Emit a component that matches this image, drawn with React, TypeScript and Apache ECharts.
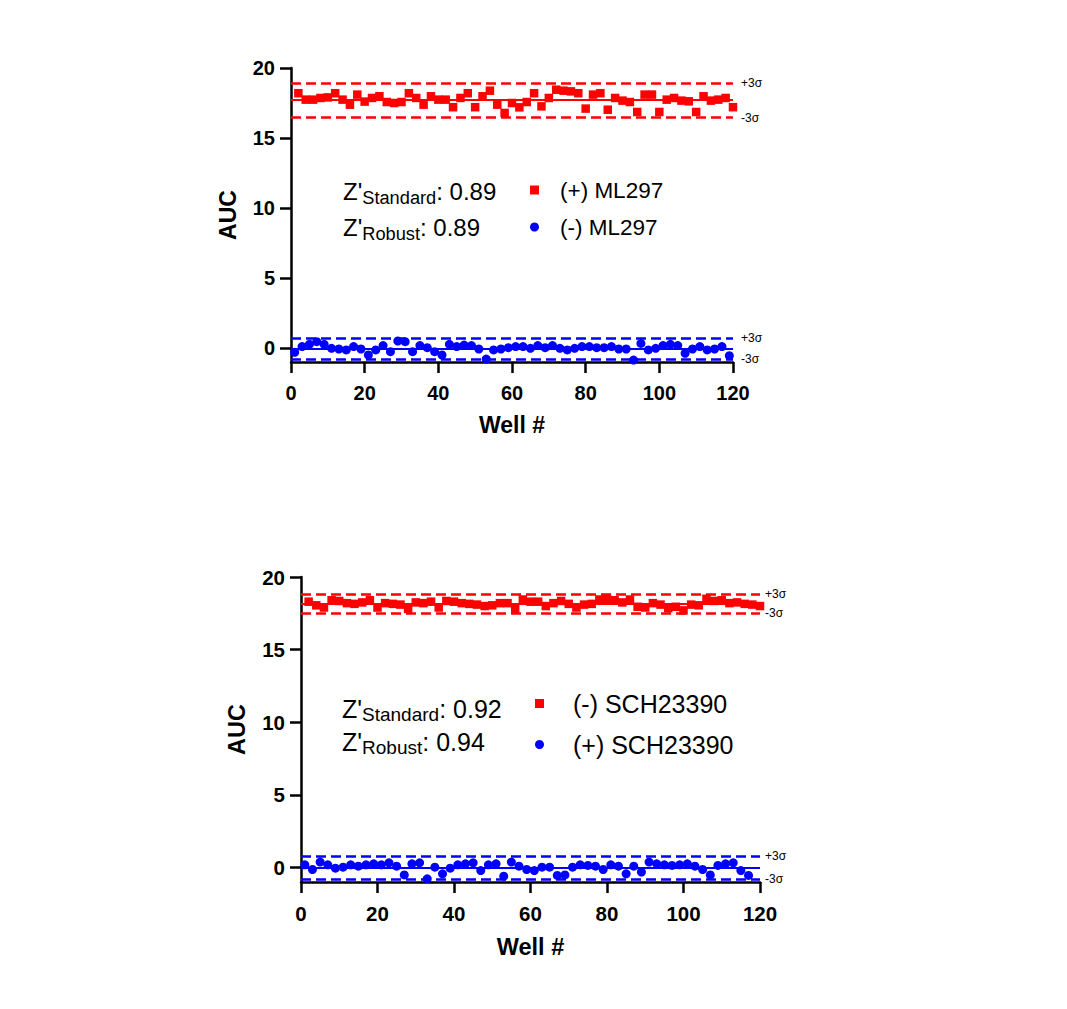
import React, { useEffect, useRef } from "react";
import * as echarts from "echarts";

const FONT = "'Liberation Sans', Arial, Helvetica, sans-serif";

// well numbers: red controls on even wells, blue controls on odd wells
const evenWells = Array.from({ length: 60 }, (_, i) => 2 + i * 2);
const oddWells = Array.from({ length: 60 }, (_, i) => 1 + i * 2);

// top plate: ML297
const topRedAuc = [
  18.2, 17.74, 17.74, 17.86, 17.9, 18.2, 17.74, 17.38, 18.1, 17.6,
  17.86, 17.98, 17.57, 17.5, 17.57, 18.2, 17.86, 17.38, 17.98, 17.74,
  17.74, 17.2, 17.86, 18.2, 17.2, 17.98, 18.38, 17.38, 16.79, 17.5,
  17.19, 17.57, 18.2, 17.26, 17.86, 18.45, 18.38, 18.33, 18.2, 17.1,
  18.1, 18.2, 17.02, 17.86, 17.67, 17.57, 16.86, 18.1, 18.1, 16.86,
  17.74, 17.86, 17.67, 17.62, 16.86, 17.98, 17.67, 17.74, 17.86, 17.2,
];
const topBlueAuc = [
  -0.31, 0.1, 0.26, 0.45, 0.26, -0.02, -0.07, -0.14, 0.1, -0.07,
  -0.5, -0.14, 0.17, -0.26, 0.5, 0.45, -0.26, 0.17, 0.02, -0.26,
  -0.5, 0.26, 0.1, 0.21, 0.17, -0.07, -0.79, -0.14, -0.07, 0.02,
  0.1, 0.1, -0.02, 0.17, 0.02, 0.17, -0.02, -0.14, -0.02, 0.1,
  0.1, 0.02, 0.02, 0.1, -0.07, -0.07, -0.86, 0.33, -0.14, -0.02,
  0.17, 0.26, 0.17, -0.38, -0.07, 0.1, -0.14, -0.07, 0.1, -0.55,
];
// [-3σ, mean, +3σ]
const topRedBand = [16.45, 17.75, 18.9];
const topBlueBand = [-0.8, -0.02, 0.7];

// bottom plate: SCH23390
const bottomRedAuc = [
  18.3, 18.05, 17.9, 18.4, 18.35, 18.2, 18.15, 18.25, 18.4, 17.9,
  18.2, 18.15, 18.1, 17.8, 18.25, 18.2, 18.3, 17.9, 18.35, 18.3,
  18.2, 18.15, 18.1, 18.0, 18.05, 18.2, 18.2, 17.8, 18.45, 18.3,
  18.3, 18.0, 18.2, 18.35, 18.15, 17.9, 18.1, 18.15, 18.45, 18.5,
  18.4, 18.25, 18.45, 17.95, 17.9, 18.2, 18.1, 17.85, 17.95, 17.7,
  18.1, 18.05, 18.5, 18.35, 18.4, 18.2, 18.25, 18.15, 18.1, 18.0,
];
const bottomBlueAuc = [
  0.18, -0.14, 0.37, 0.18, -0.05, 0.02, 0.18, 0.09, 0.18, 0.25,
  0.18, 0.32, 0.09, -0.51, 0.25, 0.32, -0.78, 0.02, -0.44, -0.05,
  0.18, 0.25, 0.32, -0.21, 0.18, 0.25, -0.6, 0.37, 0.09, -0.14,
  -0.21, 0.02, 0.02, -0.55, -0.51, 0.02, 0.18, 0.14, 0.09, -0.14,
  0.18, 0.09, -0.44, 0.09, -0.32, 0.37, 0.25, 0.18, 0.14, 0.18,
  0.25, 0.09, -0.14, -0.51, 0.14, 0.25, 0.32, -0.21, -0.55,
];
const bottomRedBand = [17.5, 18.15, 18.83];
const bottomBlueBand = [-0.78, -0.03, 0.76];

const yTickValues = [0, 5, 10, 15, 20];
const topNames = ["(+) ML297", "(-) ML297"];
const bottomNames = ["(-) SCH23390", "(+) SCH23390"];
const topZ = ["0.89", "0.89"]; // standard, robust
const bottomZ = ["0.92", "0.94"];

const RED = "#ff0000";
const BLUE = "#0000ff";

const bandLines = (band: number[], color: string, gap: number) => ({
  silent: true,
  symbol: ["none", "none"],
  animation: false,
  data: [
    {
      yAxis: band[2],
      lineStyle: { color, width: 2.5, type: [10, 5] },
      label: {
        show: true,
        formatter: "+3σ",
        position: "end",
        distance: gap,
        fontSize: 12,
        color: "#000",
        fontFamily: FONT,
        padding: [3, 0, 0, 0],
      },
    },
    {
      yAxis: band[1],
      lineStyle: { color, width: 1.8, type: "solid" },
      label: { show: false },
    },
    {
      yAxis: band[0],
      lineStyle: { color, width: 2.5, type: [10, 5] },
      label: {
        show: true,
        formatter: "-3σ",
        position: "end",
        distance: gap,
        fontSize: 12,
        color: "#000",
        fontFamily: FONT,
        padding: [0, 0, 5, 0],
      },
    },
  ],
});

const xAxisFor = (gridIndex: number, nameGap: number, fs: number) => ({
  gridIndex,
  type: "value",
  min: 0,
  max: 120,
  interval: 20,
  name: "Well #",
  nameLocation: "middle",
  nameGap,
  nameTextStyle: { fontSize: fs + 3, fontWeight: "bold", color: "#000", fontFamily: FONT },
  axisLine: { onZero: false, lineStyle: { color: "#000", width: 2.5 } },
  axisTick: { length: 11, lineStyle: { color: "#000", width: 2.5 } },
  axisLabel: { margin: 21, fontSize: fs, fontWeight: "bold", color: "#000", fontFamily: FONT },
  splitLine: { show: false },
});

const yAxisFor = (gridIndex: number, nameGap: number, fs: number) => ({
  gridIndex,
  type: "value",
  min: -1,
  max: 20,
  name: "AUC",
  nameLocation: "middle",
  nameGap,
  nameTextStyle: { fontSize: fs + 3, fontWeight: "bold", color: "#000", fontFamily: FONT },
  axisLine: { lineStyle: { color: "#000", width: 2.5 } },
  axisTick: { length: 11, customValues: yTickValues, lineStyle: { color: "#000", width: 2.5 } },
  axisLabel: {
    margin: 16,
    customValues: yTickValues,
    fontSize: fs,
    fontWeight: "bold",
    color: "#000",
    fontFamily: FONT,
  },
  splitLine: { show: false },
});

const zText = (label: string, value: string, x: number, y: number, fs: number) => ({
  type: "text",
  x,
  y,
  style: {
    text: `{z|Z'}{sub|${label}}{z|: ${value}}`,
    verticalAlign: "top",
    align: "left",
    rich: {
      z: { fontSize: fs, fontFamily: FONT, lineHeight: 30, fill: "#000" },
      sub: { fontSize: fs * 0.76, fontFamily: FONT, verticalAlign: "bottom", fill: "#000" },
    },
  },
});

const App: React.FC = () => {
  const chartRef = useRef<HTMLDivElement>(null);

  useEffect(() => {
    if (!chartRef.current) return;
    const chart = echarts.init(chartRef.current, null, { renderer: "svg" });

    chart.setOption({
      animation: false,
      backgroundColor: "#fff",
      grid: [
        { left: 291, top: 68, width: 442, height: 294 },
        { left: 301, top: 577, width: 459, height: 305 },
      ],
      xAxis: [xAxisFor(0, 51, 20), xAxisFor(1, 53, 20.5)],
      yAxis: [yAxisFor(0, 52, 20), yAxisFor(1, 52, 20.5)],
      legend: [
        {
          data: topNames,
          orient: "vertical",
          left: 530,
          top: 178,
          padding: 0,
          itemWidth: 9,
          itemHeight: 9,
          itemGap: 13,
          selectedMode: false,
          textStyle: { fontSize: 22.5, lineHeight: 24, color: "#000", fontFamily: FONT, padding: [0, 0, 0, 16] },
        },
        {
          data: bottomNames,
          orient: "vertical",
          left: 535,
          top: 690,
          padding: 0,
          itemWidth: 9,
          itemHeight: 9,
          itemGap: 14,
          selectedMode: false,
          textStyle: { fontSize: 25, lineHeight: 27, color: "#000", fontFamily: FONT, padding: [0, 0, 0, 24] },
        },
      ],
      series: [
        {
          name: topNames[1],
          type: "scatter",
          xAxisIndex: 0,
          yAxisIndex: 0,
          symbol: "circle",
          symbolSize: 9,
          itemStyle: { color: BLUE, opacity: 1 },
          data: oddWells.map((w, i) => [w, topBlueAuc[i]]),
          markLine: bandLines(topBlueBand, BLUE, 8),
        },
        {
          name: topNames[0],
          type: "scatter",
          xAxisIndex: 0,
          yAxisIndex: 0,
          symbol: "rect",
          symbolSize: 8.5,
          itemStyle: { color: RED, opacity: 1 },
          data: evenWells.map((w, i) => [w, topRedAuc[i]]),
          markLine: bandLines(topRedBand, RED, 8),
        },
        {
          name: bottomNames[1],
          type: "scatter",
          xAxisIndex: 1,
          yAxisIndex: 1,
          symbol: "circle",
          symbolSize: 9,
          itemStyle: { color: BLUE, opacity: 1 },
          data: bottomBlueAuc.map((v, i) => [oddWells[i], v]),
          markLine: bandLines(bottomBlueBand, BLUE, 5),
        },
        {
          name: bottomNames[0],
          type: "scatter",
          xAxisIndex: 1,
          yAxisIndex: 1,
          symbol: "rect",
          symbolSize: 8.5,
          itemStyle: { color: RED, opacity: 1 },
          data: evenWells.map((w, i) => [w, bottomRedAuc[i]]),
          markLine: bandLines(bottomRedBand, RED, 5),
        },
      ],
      graphic: [
        zText("Standard", topZ[0], 343, 176, 24),
        zText("Robust", topZ[1], 343, 212, 24),
        zText("Standard", bottomZ[0], 342, 694, 25),
        zText("Robust", bottomZ[1], 342, 727, 25),
      ],
    });

    return () => {
      chart.dispose();
    };
  }, []);

  return (
    <div
      ref={chartRef}
      style={{ position: "absolute", left: 0, top: 0, width: "1067px", height: "1009px" }}
    />
  );
};

export default App;
